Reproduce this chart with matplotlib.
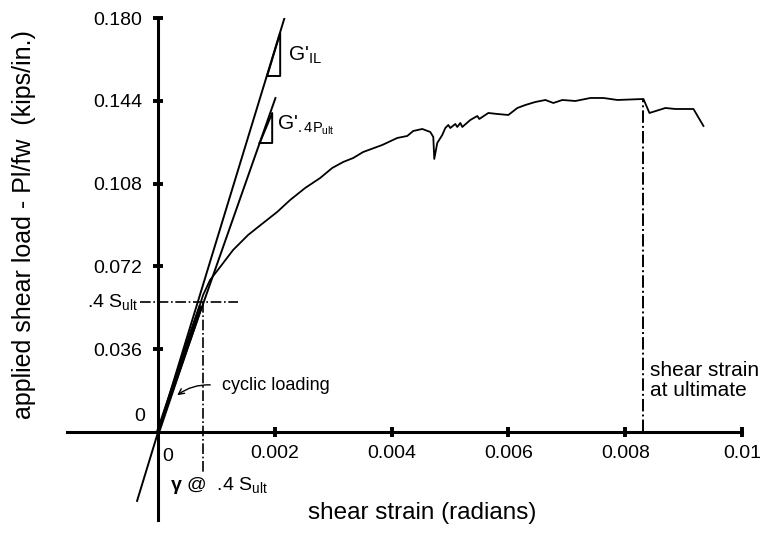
import matplotlib
matplotlib.use("Agg")
import matplotlib.pyplot as plt

plt.rcParams['font.family'] = ['Liberation Sans', 'DejaVu Sans']
plt.rcParams['mathtext.fontset'] = 'custom'
plt.rcParams['mathtext.rm'] = 'Liberation Sans'
plt.rcParams['mathtext.it'] = 'Liberation Sans'
plt.rcParams['mathtext.bf'] = 'Liberation Sans:bold'

# load - strain curve
strain = [0.0, 0.0004, 0.00072, 0.000771, 0.000891, 0.001063, 0.001285, 0.001542,
          0.0018, 0.002039, 0.002262, 0.002519, 0.002776, 0.002982, 0.003171,
          0.003342, 0.003513, 0.003839, 0.004096, 0.004267, 0.00437, 0.004524,
          0.004662, 0.004713, 0.00473, 0.004781, 0.004867, 0.004919, 0.00497,
          0.005004, 0.00509, 0.005124, 0.005176, 0.00521, 0.005347, 0.005467,
          0.005501, 0.005656, 0.00581, 0.005998, 0.006153, 0.00629, 0.006461,
          0.006633, 0.006769, 0.006924, 0.007147, 0.007404, 0.007626, 0.007866,
          0.008312, 0.008415, 0.008689, 0.00886, 0.009169, 0.00934]
load = [0.0, 0.032, 0.0555, 0.05957, 0.06609, 0.07174, 0.07913, 0.08565,
        0.09087, 0.09565, 0.10087, 0.10609, 0.11043, 0.11478, 0.11739,
        0.11913, 0.12174, 0.12478, 0.12783, 0.1287, 0.13087, 0.13174,
        0.13043, 0.12826, 0.1187, 0.12565, 0.12913, 0.13217, 0.13348,
        0.13217, 0.13391, 0.13261, 0.13435, 0.13261, 0.13565, 0.13739,
        0.13609, 0.1387, 0.13826, 0.13783, 0.14087, 0.14217, 0.14348,
        0.14435, 0.14304, 0.14435, 0.14391, 0.14522, 0.14522, 0.14435,
        0.14478, 0.1387, 0.14087, 0.14043, 0.14043, 0.13304]

# stiffness lines
il_x = [-0.00036, 0.00218]
il_y = [-0.0300, 0.1813]
p4_x = [0.0, 0.00201]
p4_y = [0.0, 0.1452]
cyc_x = [0.0, 0.00072]
cyc_y = [0.0, 0.0540]
tri_il_x = [0.001868, 0.002091, 0.002091]
tri_il_y = [0.15478, 0.15478, 0.17348]
tri_p4_x = [0.00174, 0.001954, 0.001954]
tri_p4_y = [0.12565, 0.12565, 0.1387]

s04 = 0.0565        # .4 S_ult
g04 = 0.00077       # strain at .4 S_ult
g_ult = 0.0083      # strain at ultimate
s_ult = 0.1448

xticks = [0.002, 0.004, 0.006, 0.008, 0.01]
xlabels = ['0.002', '0.004', '0.006', '0.008', '0.01']
yticks = [0.036, 0.072, 0.108, 0.144, 0.180]
ylabels = ['0.036', '0.072', '0.108', '0.144', '0.180']

fig = plt.figure(figsize=(7.62, 5.33), dpi=100)
ax = fig.add_axes([67 / 762, 1 - 520 / 533, 675 / 762, 502 / 533])
ax.set_xlim(-0.00156, 0.0100)
ax.set_ylim(-0.0383, 0.180)

for s in ['top', 'right']:
    ax.spines[s].set_visible(False)
ax.spines['left'].set_position(('data', 0))
ax.spines['bottom'].set_position(('data', 0))
ax.spines['left'].set_linewidth(2.2)
ax.spines['bottom'].set_linewidth(2.2)

ax.set_xticks(xticks)
ax.set_xticklabels(xlabels)
ax.set_yticks(yticks)
ax.set_yticklabels(ylabels)
ax.tick_params(direction='inout', length=7, width=2.8, labelsize=14)
ax.tick_params(axis='x', pad=6)
ax.tick_params(axis='y', pad=8)

lc = 'black'
ax.plot(strain, load, color=lc, lw=1.3)
ax.plot(il_x, il_y, color=lc, lw=1.4)
ax.plot(p4_x, p4_y, color=lc, lw=1.4)
ax.plot(cyc_x, cyc_y, color=lc, lw=3)
ax.plot(tri_il_x + tri_il_x[:1], tri_il_y + tri_il_y[:1], color=lc, lw=1.4)
ax.plot(tri_p4_x + tri_p4_x[:1], tri_p4_y + tri_p4_y[:1], color=lc, lw=1.4)

ax.plot([-0.00031, 0.00137], [s04, s04], color=lc, lw=1.2, ls='-.')
ax.plot([g04, g04], [s04, -0.0174], color=lc, lw=1.2, ls='-.')
ax.plot([g_ult, g_ult], [0, s_ult], color=lc, lw=1.4, ls='-.')

ax.text(-0.00031, 0.0065, '0', fontsize=14, ha='center', va='center')
ax.text(0.00017, -0.0109, '0', fontsize=14, ha='center', va='center')
ax.text(-0.00034, 0.0543, r'.4 S$_{\mathrm{ult}}$', fontsize=14, ha='right', va='baseline')
ax.text(0.000206, -0.0252, r'$\mathbf{\gamma}$ @  .4 S$_{\mathrm{ult}}$', fontsize=14,
        ha='left', va='baseline')
ax.text(0.0011, 0.0204, 'cyclic loading', fontsize=13, ha='left', va='center')
ax.annotate('', xy=(0.00029, 0.0152), xytext=(0.00094, 0.0204),
            arrowprops=dict(arrowstyle='->', color=lc, lw=1.0,
                            connectionstyle='arc3,rad=0.2'))
ax.text(0.00843, 0.0310, 'shear strain\nat ultimate', fontsize=15, ha='left', va='top',
        linespacing=1.1)
ax.text(0.002228, 0.1639, r"G'$_{\mathrm{IL}}$", fontsize=15, ha='left', va='center')
ax.text(0.00204, 0.1335, r"G'$_{\mathrm{.4P}_{\mathrm{ult}}}$", fontsize=15,
        ha='left', va='center')

fig.text(24 / 762, 1 - 225 / 533, 'applied shear load - Pl/fw  (kips/in.)', fontsize=18,
         rotation=90, ha='center', va='center')
fig.text(422 / 762, 1 - 513 / 533, 'shear strain (radians)', fontsize=17.5,
         ha='center', va='center')

fig.savefig('out.png', dpi=100)
